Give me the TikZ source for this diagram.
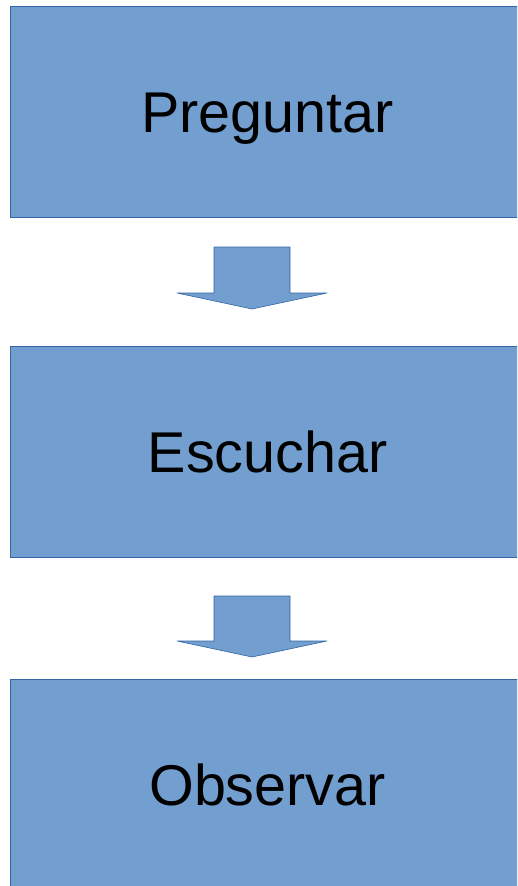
\documentclass[tikz,border=0pt]{standalone}
\usepackage{fontspec}
\setmainfont{Liberation Sans}
\usetikzlibrary{positioning}
\definecolor{boxfill}{HTML}{729FCF}
\definecolor{boxline}{HTML}{3465A4}
\tikzset{
x=1pt, y=-1pt, % pixel-like units, y going down
stepbox/.style={draw=boxline, fill=boxfill, line width=0.8pt, minimum width=515pt, minimum height=211pt, inner sep=0pt, text height=41pt, text depth=0pt, font=\fontsize{57.5}{60}\selectfont}, % the three boxes
blockarrow/.style={draw=boxline, fill=boxfill, line width=0.6pt, line join=round}, % the down arrows
}
\begin{document}
\begin{tikzpicture}
        \useasboundingbox (0,0) rectangle (517,886);
        \clip (0,0) rectangle (517,886);
        \node[stepbox] (preguntar) at (267.5,111.5) {Preguntar};
        \node[stepbox] (escuchar) at (267.5,451.5) {Escuchar};
        \node[stepbox] (observar) at (267.5,784.5) {Observar};
        % block arrows between the boxes
        \foreach \top/\tip in {247/309, 596/657}
        {
        \draw[blockarrow] (214,\top) -- (290,\top) -- (290,\tip-16) -- (327,\tip-16)
        -- (252,\tip) -- (177,\tip-16) -- (214,\tip-16) -- cycle;
        }
\end{tikzpicture}
\end{document}
